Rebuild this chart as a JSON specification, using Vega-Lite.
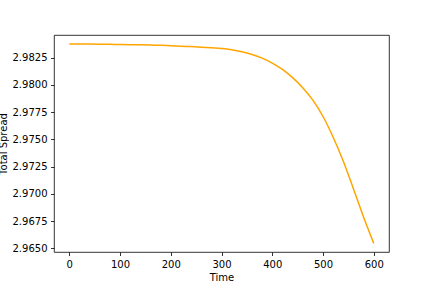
{
  "$schema": "https://vega.github.io/schema/vega-lite/v6.json",
  "width": 335,
  "height": 217,
  "autosize": {"type": "none"},
  "padding": {"left": 54, "top": 35, "right": 43, "bottom": 36},
  "background": "white",
  "config": {
    "font": "DejaVu Sans",
    "view": {"stroke": "#000000", "strokeWidth": 0.8},
    "axis": {
      "grid": false,
      "domain": false,
      "tickColor": "#000000",
      "tickSize": 3.5,
      "tickWidth": 0.8,
      "labelFont": "DejaVu Sans",
      "labelFontSize": 10,
      "labelColor": "#000000",
      "labelPadding": 3.5,
      "titleFont": "DejaVu Sans",
      "titleFontSize": 10,
      "titleFontWeight": "normal",
      "titleColor": "#000000"
    }
  },
  "data": {
    "values": [
      {"Time": 0, "Spread": 2.98376},
      {"Time": 20, "Spread": 2.98376},
      {"Time": 40, "Spread": 2.98375},
      {"Time": 60, "Spread": 2.98374},
      {"Time": 80, "Spread": 2.98373},
      {"Time": 100, "Spread": 2.98371},
      {"Time": 120, "Spread": 2.98370},
      {"Time": 140, "Spread": 2.98368},
      {"Time": 160, "Spread": 2.98366},
      {"Time": 180, "Spread": 2.98364},
      {"Time": 200, "Spread": 2.98360},
      {"Time": 220, "Spread": 2.98356},
      {"Time": 240, "Spread": 2.98352},
      {"Time": 260, "Spread": 2.98347},
      {"Time": 280, "Spread": 2.98341},
      {"Time": 300, "Spread": 2.98335},
      {"Time": 320, "Spread": 2.98323},
      {"Time": 340, "Spread": 2.98305},
      {"Time": 360, "Spread": 2.98280},
      {"Time": 380, "Spread": 2.98246},
      {"Time": 400, "Spread": 2.98201},
      {"Time": 420, "Spread": 2.98142},
      {"Time": 440, "Spread": 2.98067},
      {"Time": 460, "Spread": 2.97975},
      {"Time": 480, "Spread": 2.97860},
      {"Time": 500, "Spread": 2.97710},
      {"Time": 520, "Spread": 2.97520},
      {"Time": 540, "Spread": 2.97300},
      {"Time": 560, "Spread": 2.97045},
      {"Time": 580, "Spread": 2.96785},
      {"Time": 600, "Spread": 2.96545}
    ]
  },
  "mark": {"type": "line", "color": "#FFA500", "strokeWidth": 1.5, "interpolate": "monotone"},
  "encoding": {
    "x": {
      "field": "Time",
      "type": "quantitative",
      "scale": {"domain": [-30, 630], "nice": false, "zero": false},
      "axis": {"values": [0, 100, 200, 300, 400, 500, 600], "title": "Time", "titlePadding": 3}
    },
    "y": {
      "field": "Spread",
      "type": "quantitative",
      "scale": {"domain": [2.96466, 2.984584], "nice": false, "zero": false},
      "axis": {
        "values": [2.965, 2.9675, 2.97, 2.9725, 2.975, 2.9775, 2.98, 2.9825],
        "format": ".4f",
        "title": "Total Spread",
        "titlePadding": 4
      }
    }
  }
}
